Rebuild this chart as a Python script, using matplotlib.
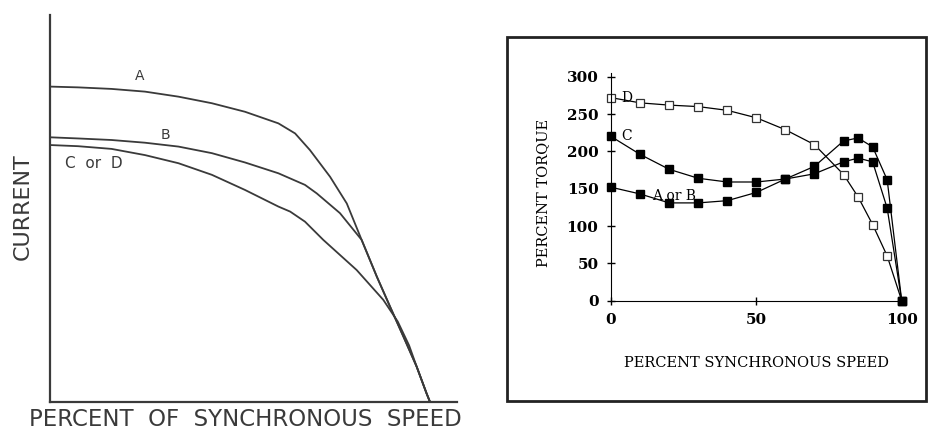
import numpy as np
import matplotlib
matplotlib.use('Agg')
import matplotlib.pyplot as plt
from matplotlib.patches import Rectangle

# ---- left panel: current vs speed (arbitrary units) ----
speed_a = [0, 7.4, 16.2, 25.0, 33.8, 42.6, 51.3, 60.1, 64.5, 68.4, 73.7, 78.1,
           82.0, 86.0, 89.5, 93.0, 96.5, 99.1, 100]
curr_a = [81.5, 81.3, 80.9, 80.2, 78.9, 77.2, 75.0, 72.0, 69.4, 65.1, 58.2, 51.3,
          41.9, 32.4, 24.6, 16.9, 9.1, 2.2, 0]
speed_b = [0, 7.4, 16.2, 25.0, 33.8, 42.6, 51.3, 60.1, 67.1, 70.2, 76.3, 82.0,
           86.0, 89.5, 93.0, 96.5, 99.1, 100]
curr_b = [68.4, 68.1, 67.7, 67.0, 66.0, 64.3, 61.9, 59.1, 56.1, 53.9, 48.8, 41.9,
          32.4, 24.6, 16.9, 9.1, 2.2, 0]
speed_cd = [0, 7.4, 16.2, 25.0, 33.8, 42.6, 51.3, 60.1, 63.2, 67.1, 71.9, 80.7,
            87.7, 91.5, 94.5, 96.5, 99.1, 100]
curr_cd = [66.4, 66.1, 65.4, 63.8, 61.7, 58.7, 54.8, 50.5, 49.2, 46.6, 41.9, 34.1,
           26.4, 20.8, 14.6, 9.1, 2.2, 0]

# ---- right panel: percent torque vs percent synchronous speed ----
sync_speed = [0, 10, 20, 30, 40, 50, 60, 70, 80, 85, 90, 95, 100]
torque_d = [272, 265, 262, 260, 255, 245, 229, 209, 169, 139, 102, 60, 0]
torque_c = [220, 196, 176, 164, 159, 159, 163, 180, 214, 218, 206, 162, 0]
torque_ab = [152, 143, 131, 131, 134, 145, 163, 170, 186, 191, 186, 124, 0]

W, H = 936, 433
fig = plt.figure(figsize=(W / 100, H / 100), dpi=100)

def px_axes(l, t, r, b):
    return fig.add_axes([l / W, 1 - b / H, (r - l) / W, (b - t) / H])

# left panel
gray = '#3a3a3a'
ax1 = px_axes(50, 15, 457, 402)
for s, c in [(speed_a, curr_a), (speed_b, curr_b), (speed_cd, curr_cd)]:
    ax1.plot(s, c, color=gray, lw=1.3)
ax1.set_xlim(0, 107.1)
ax1.set_ylim(0, 100)
ax1.spines['right'].set_visible(False)
ax1.spines['top'].set_visible(False)
for sp in ['left', 'bottom']:
    ax1.spines[sp].set_color(gray)
    ax1.spines[sp].set_linewidth(1.6)
ax1.set_xticks([])
ax1.set_yticks([])
ax1.text(23.7, 84.2, 'A', fontsize=10, color=gray, ha='center', va='center')
ax1.text(30.3, 69.0, 'B', fontsize=10, color=gray, ha='center', va='center')
ax1.text(3.9, 61.7, 'C  or  D', fontsize=11, color=gray, ha='left', va='center')
fig.text(245 / W, 1 - 419 / H, 'PERCENT  OF  SYNCHRONOUS  SPEED', fontsize=16.5,
         color=gray, ha='center', va='center')
fig.text(23 / W, 1 - 207 / H, 'CURRENT', fontsize=16, color=gray,
         ha='center', va='center', rotation=90)

# right panel frame
fig.patches.append(Rectangle((507 / W, 1 - 401 / H), (926 - 507) / W, (401 - 37) / H,
                             transform=fig.transFigure, fill=False,
                             edgecolor='#222222', lw=2))

ax2 = px_axes(611, 73, 901.7, 300.7)
ax2.plot(sync_speed, torque_d, color='black', lw=0.9, marker='s', ms=6,
         mfc='white', mec='#333333', mew=0.9, clip_on=False)
ax2.plot(sync_speed, torque_c, color='black', lw=0.9, marker='s', ms=6,
         mfc='black', mec='black', clip_on=False)
ax2.plot(sync_speed, torque_ab, color='black', lw=0.9, marker='s', ms=6,
         mfc='black', mec='black', clip_on=False)
ax2.set_xlim(0, 100)
ax2.set_ylim(0, 305)
ax2.spines['right'].set_visible(False)
ax2.spines['top'].set_visible(False)
ax2.set_xticks([0, 50, 100])
ax2.set_yticks(np.arange(0, 301, 50))
ax2.tick_params(direction='inout', length=6, width=1, pad=6)
for lab in ax2.get_xticklabels() + ax2.get_yticklabels():
    lab.set_fontfamily('DejaVu Serif')
    lab.set_fontweight('bold')
    lab.set_fontsize(11)
ax2.text(3.5, 272, 'D', fontsize=10, fontfamily='DejaVu Serif', va='center')
ax2.text(3.5, 220, 'C', fontsize=10, fontfamily='DejaVu Serif', va='center')
ax2.text(14, 140, 'A or B', fontsize=10, fontfamily='DejaVu Serif', va='center')
fig.text(756 / W, 1 - 363 / H, 'PERCENT SYNCHRONOUS SPEED', fontsize=10.5,
         fontfamily='DejaVu Serif', ha='center', va='center')
fig.text(543 / W, 1 - 193 / H, 'PERCENT TORQUE', fontsize=10.5,
         fontfamily='DejaVu Serif', ha='center', va='center', rotation=90)

fig.savefig('out.png', dpi=100)
